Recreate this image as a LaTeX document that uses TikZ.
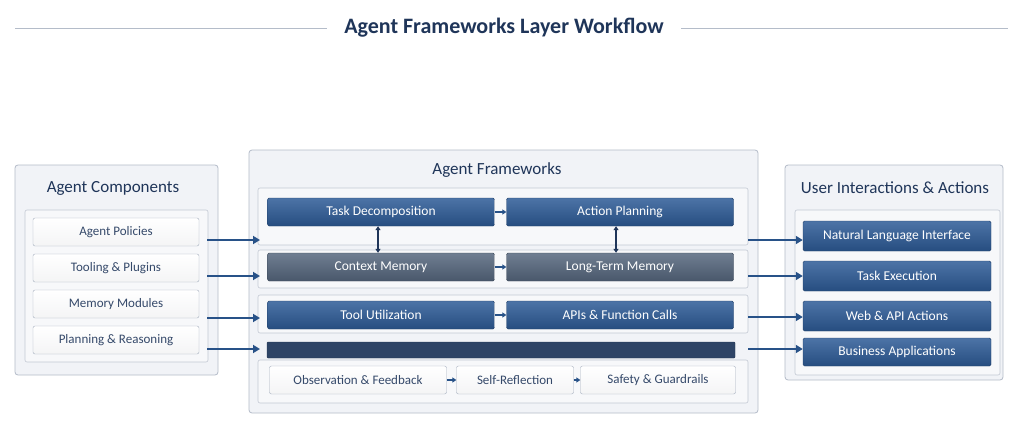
\documentclass[tikz,border=0pt]{standalone}
\usepackage{fontspec}
\setmainfont{Carlito}
\usetikzlibrary{positioning,arrows.meta}
\definecolor{navy}{HTML}{1F3559}
\definecolor{bluebox}{HTML}{2D5B97}
\definecolor{graybox}{HTML}{56677E}
\definecolor{darkbar}{HTML}{2E4466}
\definecolor{panelfill}{HTML}{F1F3F7}
\definecolor{paneldraw}{HTML}{B4BCC9}
\tikzset{
  panel/.style={draw=paneldraw, fill=panelfill, rounded corners=3pt, line width=0.8pt},
  group/.style={draw=paneldraw!80, fill=panelfill!60!white, rounded corners=2pt, line width=0.6pt},
  ptitle/.style={text=navy, font=\fontsize{17}{20}\selectfont},
  item/.style={draw=paneldraw!120, top color=white, bottom color=panelfill!80!gray!30, rounded corners=2pt,
    minimum width=166pt, minimum height=28pt, text=navy!90, font=\fontsize{13}{15}\selectfont},
  blue/.style={draw=bluebox!70!black, top color=bluebox!85!white, bottom color=bluebox!85!black, rounded corners=1.5pt,
    minimum width=227pt, minimum height=28pt, text=white, font=\fontsize{13.5}{15}\selectfont},
  gray/.style={blue, draw=graybox!70!black, top color=graybox!85!white, bottom color=graybox!85!black},
  rblue/.style={blue, minimum width=188pt, minimum height=30pt},
  fb/.style={item, minimum height=28pt},
  flow/.style={-{Triangle[length=7pt,width=8pt]}, line width=2.2pt, draw=bluebox!90!black},
  link/.style={-{Triangle[length=4pt,width=5pt]}, line width=1.2pt, draw=bluebox!90!black},
  dlink/.style={{Triangle[length=4pt,width=5pt]}-{Triangle[length=4pt,width=5pt]}, line width=1.2pt, draw=navy}
}
\begin{document}
\begin{tikzpicture}[x=1pt,y=-1pt]
\useasboundingbox (0,0) rectangle (1024,441);
\fill[white] (0,0) rectangle (1024,441);

% title
\node[text=navy, font=\fontsize{22}{26}\selectfont\bfseries] (title) at (504,28) {Agent Frameworks Layer Workflow};
\coordinate (tl) at (15,28);
\coordinate (tr) at (1008,28);
\draw[paneldraw, line width=0.8pt] (tl) -- ([xshift=-14pt]title.west);
\draw[paneldraw, line width=0.8pt] ([xshift=14pt]title.east) -- (tr);

% left panel
\draw[panel] (15,165) rectangle (218,375);
\node[ptitle] at (113,188) {Agent Components};
\draw[group] (25,210) rectangle (208,362);
\node[item] (ap) at (116,232) {Agent Policies};
\node[item] (tp) at (116,268) {Tooling \& Plugins};
\node[item] (mm) at (116,304) {Memory Modules};
\node[item] (pr) at (116,340) {Planning \& Reasoning};

% middle panel
\draw[panel] (249,150) rectangle (758,413);
\node[ptitle] at (497,170) {Agent Frameworks};
\draw[group] (258,188) rectangle (748,245);
\draw[group] (258,250) rectangle (748,288);
\draw[group] (258,295) rectangle (748,333);
\draw[group] (258,360) rectangle (748,403);
\node[blue] (td) at (381,212) {Task Decomposition};
\node[blue] (apl) at (620,212) {Action Planning};
\node[gray] (cm) at (381,267) {Context Memory};
\node[gray] (ltm) at (620,267) {Long-Term Memory};
\node[blue] (tu) at (381,315) {Tool Utilization};
\node[blue] (api) at (620,315) {APIs \& Function Calls};
\node[draw=darkbar!80!black, fill=darkbar, rounded corners=1pt, minimum width=468pt, minimum height=16pt, inner sep=0pt] (bar) at (501,350) {};
\node[fb, minimum width=177pt] (of) at (358,380) {Observation \& Feedback};
\node[fb, minimum width=117pt] (sr) at (515,380) {Self-Reflection};
\node[fb, minimum width=155pt] (sg) at (658,380) {Safety \& Guardrails};

\draw[link] (td) -- (apl);
\draw[link] (cm) -- (ltm);
\draw[link] (tu) -- (api);
\draw[link] (of) -- (sr);
\draw[link] (sr) -- (sg);
\draw[dlink] ([xshift=-3pt]td.south) -- ([xshift=-3pt]cm.north);
\draw[dlink] ([xshift=-4pt]apl.south) -- ([xshift=-4pt]ltm.north);

% right panel
\draw[panel] (785,165) rectangle (1003,380);
\node[ptitle] at (895,188) {User Interactions \& Actions};
\draw[group] (795,210) rectangle (1000,375);
\node[rblue] (nli) at (897,236) {Natural Language Interface};
\node[rblue] (te) at (897,276) {Task Execution};
\node[rblue] (wa) at (897,316) {Web \& API Actions};
\node[rblue, minimum height=28pt] (ba) at (897,352) {Business Applications};

% flows
\coordinate (f1) at (260,240);
\coordinate (f2) at (260,276);
\coordinate (f3) at (260,318);
\coordinate (f4) at (260,349);
\draw[flow] (f1 -| ap.east) ++(8,0) -- (f1);
\draw[flow] (f2 -| tp.east) ++(8,0) -- (f2);
\draw[flow] (f3 -| mm.east) ++(8,0) -- (f3);
\draw[flow] (f4 -| pr.east) ++(8,0) -- (f4);
\coordinate (g1) at (748,240);
\coordinate (g2) at (748,276);
\coordinate (g3) at (748,317);
\coordinate (g4) at (748,349);
\draw[flow] (g1) -- (g1 -| nli.west);
\draw[flow] (g2) -- (g2 -| te.west);
\draw[flow] (g3) -- (g3 -| wa.west);
\draw[flow] (g4) -- (g4 -| ba.west);
\end{tikzpicture}
\end{document}
